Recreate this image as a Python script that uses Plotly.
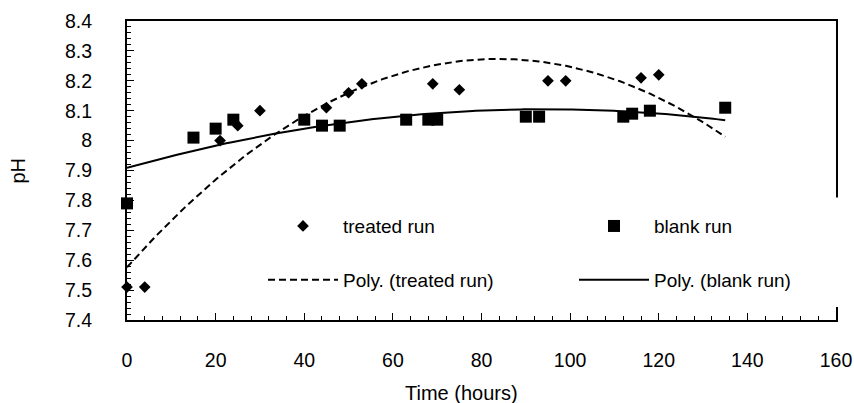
import numpy as np
import plotly.graph_objects as go

# ---- data ----
treated_time = [0, 4, 21, 25, 30, 45, 50, 53, 69, 75, 95, 99, 116, 120]
treated_ph = [7.51, 7.51, 8.00, 8.05, 8.10, 8.11, 8.16, 8.19, 8.19, 8.17, 8.20, 8.20, 8.21, 8.22]

blank_time = [0, 15, 20, 24, 40, 44, 48, 63, 68, 70, 90, 93, 112, 114, 118, 135]
blank_ph = [7.79, 8.01, 8.04, 8.07, 8.07, 8.05, 8.05, 8.07, 8.07, 8.07, 8.08, 8.08, 8.08, 8.09, 8.10, 8.11]

x_ticks = [0, 20, 40, 60, 80, 100, 120, 140, 160]
y_ticks = [7.4, 7.5, 7.6, 7.7, 7.8, 7.9, 8.0, 8.1, 8.2, 8.3, 8.4]
y_tick_text = ["7.4", "7.5", "7.6", "7.7", "7.8", "7.9", "8", "8.1", "8.2", "8.3", "8.4"]

# order-2 polynomial trendlines (as in the spreadsheet), fitted to the data
trend_end = 135
ct = np.polyfit(treated_time, treated_ph, 2)
cb = np.polyfit(blank_time, blank_ph, 2)
xt = np.linspace(0, trend_end, 200)
xb = np.linspace(0, max(blank_time), 200)

FONT = "Arial, Liberation Sans, sans-serif"
fig = go.Figure()

fig.add_trace(go.Scatter(x=treated_time, y=treated_ph, mode="markers", name="treated run",
                         marker=dict(symbol="diamond", size=9, color="black"),
                         cliponaxis=False, legend="legend", legendwidth=226))
fig.add_trace(go.Scatter(x=blank_time, y=blank_ph, mode="markers", name="blank run",
                         marker=dict(symbol="square", size=12, color="black"),
                         cliponaxis=False, legend="legend", legendwidth=226))
fig.add_trace(go.Scatter(x=xt, y=np.polyval(ct, xt), mode="lines", name="Poly. (treated run)",
                         line=dict(color="black", width=2, dash="7px,4px"),
                         legend="legend2", legendwidth=226))
fig.add_trace(go.Scatter(x=xb, y=np.polyval(cb, xb), mode="lines", name="Poly. (blank run)",
                         line=dict(color="black", width=2),
                         legend="legend2", legendwidth=226))

axis_common = dict(showgrid=False, zeroline=False, showline=True, linewidth=2, linecolor="black",
                   mirror=True, ticks="inside", ticklen=7, tickwidth=1, tickcolor="black",
                   tickfont=dict(family=FONT, size=19.5, color="black"))

fig.update_xaxes(range=[0, 160], tickvals=x_ticks, ticklabelstandoff=22,
                 minor=dict(dtick=4, tick0=0, ticks="inside", ticklen=4, tickcolor="black"),
                 **axis_common)
fig.update_yaxes(range=[7.4, 8.4], tickvals=y_ticks, ticktext=y_tick_text, ticklabelstandoff=29,
                 minor=dict(dtick=0.02, tick0=7.4, ticks="inside", ticklen=4, tickcolor="black"),
                 **axis_common)

leg_x = (263 - 127) / 709
leg_common = dict(orientation="h", x=leg_x, xanchor="left", yanchor="middle",
                  itemwidth=70, bgcolor="rgba(0,0,0,0)", borderwidth=0,
                  font=dict(family=FONT, size=19, color="black"), itemclick=False)

fig.update_layout(
    width=854, height=403,
    margin=dict(l=127, r=18, t=21, b=83, autoexpand=False),
    paper_bgcolor="white", plot_bgcolor="white",
    showlegend=True,
    legend=dict(y=0.314, **leg_common),
    legend2=dict(y=0.134, **leg_common),
    shapes=[dict(type="rect", xref="paper", yref="paper", x0=leg_x, x1=1.02, y0=0.0435, y1=0.41,
                 fillcolor="white", line=dict(width=0), layer="above")],
    annotations=[
        dict(text="Time (hours)", xref="paper", yref="paper", x=(461 - 127) / 709, y=-0.245,
             xanchor="center", yanchor="middle", showarrow=False,
             font=dict(family=FONT, size=20, color="black")),
        dict(text="pH", xref="paper", yref="paper", x=(17 - 127) / 709, y=0.5, textangle=-90,
             xanchor="center", yanchor="middle", showarrow=False,
             font=dict(family=FONT, size=20, color="black")),
    ],
)

fig.write_html("out.html", config={"displayModeBar": False},
               post_script="document.body.style.margin='0';document.body.style.overflow='hidden';")
